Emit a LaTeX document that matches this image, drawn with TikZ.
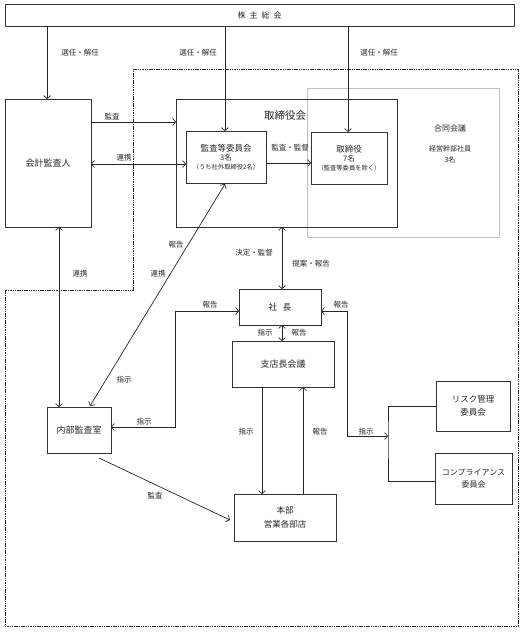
\documentclass[tikz,border=0pt]{standalone}
\usepackage{fontspec}
\setmainfont{Noto Sans CJK JP}
\usetikzlibrary{arrows.meta,calc}
\tikzset{
  box/.style={draw=black!80,line width=0.9pt,inner sep=0pt,outer sep=0pt,align=center,font=\fontsize{8.5}{11}\selectfont,text=black!85},
  lbl/.style={inner sep=0pt,font=\fontsize{7.5}{9}\selectfont,text=black!85},
  arr/.style={draw=black!85,line width=0.7pt,-{Straight Barb[length=3pt,width=7pt]}},
  arrb/.style={draw=black!85,line width=0.7pt,{Straight Barb[length=3pt,width=7pt]}-{Straight Barb[length=3pt,width=7pt]}},
  ln/.style={draw=black!85,line width=0.7pt},
  small/.style={font=\fontsize{6.5}{8}\selectfont}
}
\begin{document}
\begin{tikzpicture}[x=1pt,y=-1pt]
\useasboundingbox (0,0) rectangle (523,632);
% dashed region
\draw[line width=0.8pt,dash pattern=on 1.5pt off 0.8pt,black!85] (133,69) -- (518,69) -- (518,626) -- (5,626) -- (5,290) -- (133,290) -- cycle;
% joint meeting gray box
\node[draw=black!25,line width=0.9pt,minimum width=192pt,minimum height=149pt,inner sep=0pt] (goudou) at (403,162.5) {};
\node[lbl,font=\fontsize{8}{9}\selectfont] (goudoulbl) at (450,128) {合同会議};
\node[lbl,align=center,font=\fontsize{7}{10.5}\selectfont] (goudoutxt) at (450,154.5) {経営幹部社員\\3名};
% boxes
\node[box,minimum width=509pt,minimum height=22pt,font=\fontsize{8}{9}\selectfont] (kabu) at (259.5,15) {株\hspace{4pt}主\hspace{4pt}総\hspace{4pt}会};
\node[box,minimum width=86pt,minimum height=128pt,font=\fontsize{9}{11}\selectfont] (kaikei) at (48,163) {会計監査人};
\node[box,minimum width=221pt,minimum height=128pt] (torikai) at (286.5,163) {};
\node[lbl,font=\fontsize{10.5}{12}\selectfont] (torikailbl) at (285,116) {取締役会};
\node[box,minimum width=80pt,minimum height=52pt] (kansaiin) at (226,157) {監査等委員会\\[-2pt]{\fontsize{7.5}{9}\selectfont 3名}\\[-2pt]{\fontsize{6.3}{8}\selectfont （うち社外取締役2名）}};
\node[box,minimum width=76pt,minimum height=52pt] (toriyaku) at (349,158) {取締役\\[-2pt]{\fontsize{7.5}{9}\selectfont 7名}\\[-2pt]{\fontsize{6.3}{8}\selectfont （監査等委員を除く）}};
\node[box,minimum width=64pt,minimum height=46pt,font=\fontsize{9}{11}\selectfont] (naibu) at (79,430) {内部監査室};
\node[box,minimum width=82pt,minimum height=36pt] (shacho) at (280,307) {社\hspace{6pt}長};
\node[box,minimum width=102pt,minimum height=46pt,font=\fontsize{9}{11}\selectfont] (shiten) at (283,364) {支店長会議};
\node[box,minimum width=102pt,minimum height=47pt,font=\fontsize{8.5}{14}\selectfont] (honbu) at (285,517.5) {本部\\営業各部店};
\node[box,minimum width=74pt,minimum height=50pt,font=\fontsize{8.5}{13}\selectfont] (risk) at (473,406) {リスク管理\\委員会};
\node[box,minimum width=77pt,minimum height=51pt,font=\fontsize{8}{12.5}\selectfont] (compl) at (473.5,478.5) {コンプライアンス\\委員会};
% arrows from shareholders meeting
\draw[arr] ([xshift=-1pt]kaikei.north |- kabu.south) -- ([xshift=-1pt]kaikei.north);
\draw[arr] ([xshift=-1pt]kansaiin.north |- kabu.south) -- ([xshift=-1pt]kansaiin.north);
\draw[arr] ([xshift=-1pt]toriyaku.north |- kabu.south) -- ([xshift=-1pt]toriyaku.north);
\node[lbl] (l1) at (80,53) {選任・解任};
\node[lbl] (l2) at (198,53) {選任・解任};
\node[lbl] (l3) at (379,53) {選任・解任};
% audit
\draw[arr] ([yshift=-23pt]kaikei.north east) -- ([yshift=-23pt]kaikei.north east -| torikai.west);
\node[lbl] (l4) at (112,117) {監査};
\draw[arrb] ([yshift=-7pt]kansaiin.west -| kaikei.east) -- ([yshift=-7pt]kansaiin.west);
\node[lbl] (l5) at (124,158) {連携};
\draw[arr] ([yshift=-6pt]kansaiin.east) -- ([yshift=-6pt]kansaiin.east -| toriyaku.west);
\node[lbl] (l6) at (290,148) {監査・監督};
% kaikei <-> naibu
\draw[arrb] ([xshift=11pt]kaikei.south) -- ([xshift=11pt]kaikei.south |- naibu.north);
\node[lbl] (l7) at (80,274) {連携};
% naibu <-> kansaiin
\draw[arrb] ([xshift=11pt,yshift=1pt]naibu.north) -- ([xshift=-1pt,yshift=-1pt]kansaiin.south);
\node[lbl] (l8) at (176,245) {報告};
\node[lbl] (l9) at (158,274) {連携};
\node[lbl] (l10) at (124,380) {指示};
% torikai <-> shacho
\draw[arrb] ([xshift=2pt]shacho.north |- torikai.south) -- ([xshift=2pt]shacho.north);
\node[lbl] (l11) at (254,253) {決定・監督};
\node[lbl] (l12) at (311,264) {提案・報告};
% shacho <-> shiten
\draw[arrb] ([xshift=2pt]shacho.south) -- ([xshift=2pt]shacho.south |- shiten.north);
\node[lbl] (l13) at (265,333) {指示};
\node[lbl] (l14) at (299,333) {報告};
% shacho <-> naibu
\draw[arrb] ([yshift=-4pt]shacho.west) -- ++(-64,0) |- ([yshift=3pt]naibu.east);
\node[lbl] (l15) at (210,305) {報告};
\node[lbl] (l16) at (144,422) {指示};
% shacho <-> committees
\coordinate (br) at (388,436);
\draw[arrb] ([yshift=-4pt]shacho.east) -- ++(26,0) |- (br);
\draw[ln] (risk.west) -| (br) |- ([yshift=-2.5pt]compl.west);
\node[lbl] (l17) at (341,305) {報告};
\node[lbl] (l18) at (366,432) {指示};
% shiten <-> honbu
\draw[arr] ([xshift=-21pt]shiten.south) -- ([xshift=-21pt]shiten.south |- honbu.north);
\draw[arr] ([xshift=20pt]shiten.south |- honbu.north) -- ([xshift=20pt]shiten.south);
\node[lbl] (l19) at (246,432) {指示};
\node[lbl] (l20) at (320,432) {報告};
% naibu -> honbu
\draw[arr] ([xshift=20pt,yshift=-5pt]naibu.south) -- ([xshift=-4pt,yshift=-2.5pt]honbu.west);
\node[lbl] (l21) at (155,496) {監査};
\end{tikzpicture}
\end{document}
